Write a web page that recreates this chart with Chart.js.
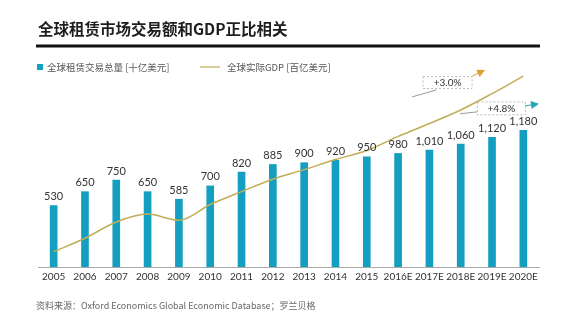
<!DOCTYPE html>
<html>
<head>
<meta charset="utf-8">
<script src="https://cdn.jsdelivr.net/npm/chart.js@4"></script>
<style>
  html, body { margin: 0; padding: 0; background: #fff; }
  #wrap { width: 561px; height: 327px; position: relative; }
</style>
</head>
<body>
<div id="wrap"><canvas id="graficoLeasing"></canvas></div>
<script>
const anos = ['2005', '2006', '2007', '2008', '2009', '2010', '2011', '2012', '2013', '2014', '2015', '2016E', '2017E', '2018E', '2019E', '2020E'];
const volumeLeasing = [530, 650, 750, 650, 585, 700, 820, 885, 900, 920, 950, 980, 1010, 1060, 1120, 1180];
const gdpReal = [4970, 5210, 5500, 5640, 5530, 5810, 6040, 6260, 6430, 6610, 6770, 7020, 7250, 7490, 7780, 8090];

const corBarra = '#149fc1';
const corLinha = '#bfae55';
const fonteCJK = '"Noto Sans CJK SC", "Noto Sans", sans-serif';
const fonteNum = 'Lato, "Noto Sans", sans-serif';

// notas de crescimento: posicoes em (indice da categoria, valor do eixo das barras)
const notas = [
    { texto: '+3.0%', caixa: [12.58, 1592], w: 49, h: 12, guia: [[11.45, 1468], [12.22, 1528]], seta: [[13.37, 1648], [13.78, 1700]], cor: '#dca234' },
    { texto: '+4.8%', caixa: [14.30, 1369], w: 48, h: 13, guia: [[12.98, 1322], [13.53, 1339]], seta: [[15.06, 1391], [15.50, 1408]], cor: '#2aa6b0' }
];

const decoracao = {
    id: 'decoracao',
    afterDraw(chart) {
        const ctx = chart.ctx;
        ctx.save();

        // titulo e filete
        ctx.fillStyle = '#1e1e1e';
        ctx.font = 'bold 15.5px ' + fonteCJK;
        ctx.textBaseline = 'middle';
        ctx.textAlign = 'left';
        ctx.fillText('全球租赁市场交易额和GDP正比相关', 38, 29);
        ctx.fillStyle = '#111';
        ctx.fillRect(36, 44.5, 504, 3);

        // legenda
        const ds = chart.data.datasets;
        ctx.font = '9.5px ' + fonteCJK;
        ctx.fillStyle = corBarra;
        ctx.fillRect(37, 64, 6, 6);
        ctx.fillStyle = '#555';
        ctx.fillText(ds[0].label, 47, 67.5);
        ctx.strokeStyle = corLinha;
        ctx.lineWidth = 1.2;
        ctx.beginPath();
        ctx.moveTo(200, 67);
        ctx.lineTo(220, 67);
        ctx.stroke();
        ctx.fillText(ds[1].label, 227, 67.5);

        // fonte
        ctx.font = '9px ' + fonteCJK;
        ctx.fillStyle = '#666';
        ctx.fillText('资料来源：Oxford Economics Global Economic Database；罗兰贝格', 36, 306);

        // valores acima das barras
        const meta = chart.getDatasetMeta(0);
        ctx.font = '11px ' + fonteNum;
        ctx.fillStyle = '#333';
        ctx.textAlign = 'center';
        meta.data.forEach((bar, i) => {
            ctx.fillText(volumeLeasing[i].toLocaleString('en-US'), bar.x, bar.y - 9);
        });

        // notas de crescimento
        const x = chart.scales.x, y = chart.scales.y;
        const p = (pt) => [x.getPixelForValue(pt[0]), y.getPixelForValue(pt[1])];
        notas.forEach(n => {
            const [cx, cy] = p(n.caixa);
            ctx.setLineDash([2, 2]);
            ctx.strokeStyle = '#aaa';
            ctx.lineWidth = 0.8;
            ctx.strokeRect(cx - n.w / 2, cy - n.h / 2, n.w, n.h);
            ctx.setLineDash([]);
            ctx.fillStyle = '#333';
            ctx.font = '10px ' + fonteNum;
            ctx.fillText(n.texto, cx, cy + 0.5);

            const [g0, g1] = [p(n.guia[0]), p(n.guia[1])];
            ctx.strokeStyle = '#999';
            ctx.lineWidth = 1;
            ctx.beginPath();
            ctx.moveTo(g0[0], g0[1]);
            ctx.lineTo(g1[0], g1[1]);
            ctx.stroke();

            const [s0, s1] = [p(n.seta[0]), p(n.seta[1])];
            const ang = Math.atan2(s1[1] - s0[1], s1[0] - s0[0]);
            ctx.strokeStyle = n.cor;
            ctx.beginPath();
            ctx.moveTo(s0[0], s0[1]);
            ctx.lineTo(s1[0] - 5 * Math.cos(ang), s1[1] - 5 * Math.sin(ang));
            ctx.stroke();
            ctx.fillStyle = n.cor;
            ctx.beginPath();
            ctx.moveTo(s1[0], s1[1]);
            ctx.lineTo(s1[0] - 8 * Math.cos(ang) + 4 * Math.sin(ang), s1[1] - 8 * Math.sin(ang) - 4 * Math.cos(ang));
            ctx.lineTo(s1[0] - 8 * Math.cos(ang) - 4 * Math.sin(ang), s1[1] - 8 * Math.sin(ang) + 4 * Math.cos(ang));
            ctx.closePath();
            ctx.fill();
        });

        ctx.restore();
    }
};

new Chart(document.getElementById('graficoLeasing'), {
    type: 'bar',
    data: {
        labels: anos,
        datasets: [{
            label: '全球租赁交易总量 [十亿美元]',
            data: volumeLeasing,
            backgroundColor: corBarra,
            barThickness: 7,
            yAxisID: 'y',
            order: 2
        }, {
            type: 'line',
            label: '全球实际GDP [百亿美元]',
            data: gdpReal,
            borderColor: corLinha,
            borderWidth: 1.5,
            pointRadius: 0,
            cubicInterpolationMode: 'monotone',
            fill: false,
            yAxisID: 'y2',
            order: 1
        }]
    },
    options: {
        responsive: true,
        maintainAspectRatio: false,
        animation: false,
        layout: { padding: { top: 70, left: 38, right: 22, bottom: 40 } },
        plugins: {
            legend: { display: false },
            tooltip: { enabled: false }
        },
        scales: {
            x: {
                grid: { display: false, drawTicks: false },
                border: { color: '#aaa', width: 1 },
                ticks: {
                    color: '#333',
                    font: { family: fonteNum, size: 10 },
                    padding: 4,
                    maxRotation: 0,
                    autoSkip: false
                }
            },
            y: { display: false, min: 0, max: 1700 },
            y2: { display: false, min: 4700, max: 8200 }
        }
    },
    plugins: [decoracao]
});
</script>
</body>
</html>
